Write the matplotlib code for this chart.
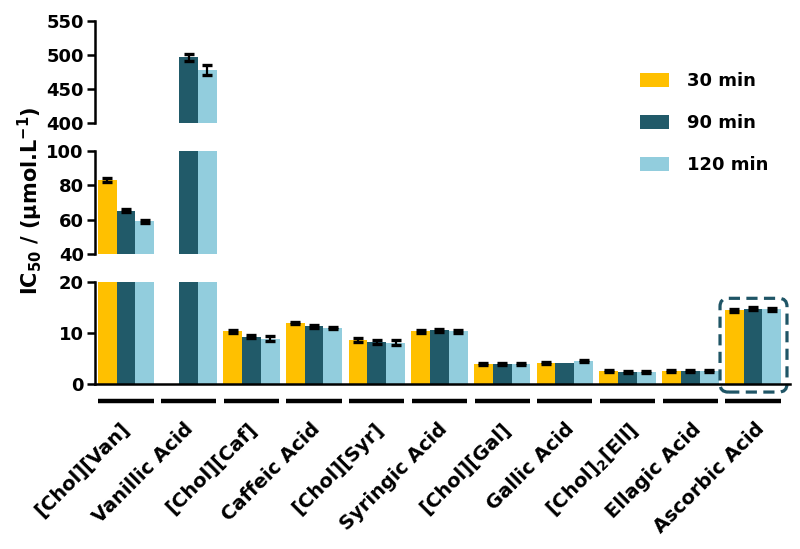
import matplotlib
matplotlib.use('Agg')
import matplotlib.pyplot as plt
import matplotlib.transforms as mtransforms
from matplotlib.patches import FancyBboxPatch
import numpy as np

plt.rcParams['font.family'] = ['DejaVu Sans']
plt.rcParams['font.weight'] = 'bold'
plt.rcParams['mathtext.default'] = 'bf'

categories = ['[Chol][Van]', 'Vanillic Acid', '[Chol][Caf]', 'Caffeic Acid',
              '[Chol][Syr]', 'Syringic Acid', '[Chol][Gal]', 'Gallic Acid',
              '[Chol]$_2$[Ell]', 'Ellagic Acid', 'Ascorbic Acid']
series = ['30 min', '90 min', '120 min']
ic50_30 = [83.0, np.nan, 10.3, 12.0, 8.7, 10.3, 3.9, 4.1, 2.5, 2.6, 14.5]
ic50_90 = [65.2, 496.5, 9.3, 11.3, 8.2, 10.5, 3.9, 4.1, 2.4, 2.6, 14.8]
ic50_120 = [59.0, 478.0, 8.9, 11.0, 8.1, 10.3, 3.9, 4.5, 2.4, 2.6, 14.7]
err_30 = [1.0, np.nan, 0.3, 0.25, 0.4, 0.3, 0.25, 0.25, 0.2, 0.2, 0.3]
err_90 = [1.0, 5.0, 0.35, 0.25, 0.45, 0.3, 0.25, np.nan, 0.2, 0.2, 0.3]
err_120 = [0.8, 7.0, 0.45, 0.25, 0.5, 0.3, 0.25, 0.25, 0.2, 0.2, 0.3]
colors = ['#FFC000', '#215A69', '#92CDDD']
seg_limits = [(400, 550), (40, 100), (0, 20)]
seg_ticks = [[400, 450, 500, 550], [40, 60, 80, 100], [0, 10, 20]]

W, H = 800, 549
fig = plt.figure(figsize=(W / 100, H / 100), dpi=100)

def rect(left, top, right, bottom):
    return [left / W, 1 - bottom / H, (right - left) / W, (bottom - top) / H]

rects = [rect(95, 21, 790, 123), rect(95, 151, 790, 254), rect(95, 282, 790, 384)]
x = np.arange(len(categories))
w = 0.30
xlim = (-0.494, 10.59)
vals_all = [ic50_30, ic50_90, ic50_120]
errs_all = [err_30, err_90, err_120]

axes = []
handles = []
for (lo, hi), ticks, r in zip(seg_limits, seg_ticks, rects):
    ax = fig.add_axes(r)
    hs = []
    for k, (vals, errs, c, lab) in enumerate(zip(vals_all, errs_all, colors, series)):
        xs = x + (k - 1) * w
        b = ax.bar(xs, vals, width=w, color=c, label=lab, edgecolor='none')
        hs.append(b)
        ax.errorbar(xs, vals, yerr=errs, fmt='none', ecolor='black',
                    elinewidth=1.6, capsize=3.6, capthick=2.4)
    handles = hs
    ax.set_ylim(lo, hi)
    ax.set_xlim(*xlim)
    ax.set_yticks(ticks)
    ax.set_yticklabels([str(t) for t in ticks], fontsize=13, fontweight='bold')
    ax.tick_params(axis='y', width=1.8, length=6, pad=2)
    for s in ['top', 'right']:
        ax.spines[s].set_visible(False)
    ax.spines['left'].set_linewidth(1.8)
    ax.spines['bottom'].set_linewidth(1.8)
    ax.patch.set_alpha(0)
    axes.append(ax)

for ax in axes[:2]:
    ax.spines['bottom'].set_visible(False)
    ax.set_xticks([])

axb = axes[2]
axb.set_xticks(x)
axb.set_xticklabels(categories, rotation=45, ha='right', va='top',
                    rotation_mode='anchor', fontsize=14, fontweight='bold')
axb.tick_params(axis='x', length=0, pad=25.5)
for i, lab in enumerate(axb.get_xticklabels()):
    off = mtransforms.ScaledTranslation((-6 + 0.8 * i) / 100, 0, fig.dpi_scale_trans)
    lab.set_transform(lab.get_transform() + off)

blend = mtransforms.blended_transform_factory(axb.transData, axb.transAxes)
for i in x:
    axb.plot([i - 0.44, i + 0.44], [-0.167, -0.167], transform=blend, color='black',
             lw=3.2, clip_on=False, solid_capstyle='butt')

# dashed highlight around Ascorbic Acid
xr = (xlim[1] - xlim[0]) / 695.0
yr = 20 / 102.0
box = FancyBboxPatch((10 - 0.526, -1.58), 1.068, 18.38,
                     boxstyle='round,pad=0,rounding_size=0.13',
                     mutation_aspect=yr / xr, transform=axb.transData,
                     clip_on=False, fill=False, ec='#1F5566', lw=2.3,
                     ls=(0, (3.5, 2)))
axb.add_patch(box)

fig.legend(handles, series, loc='upper left', bbox_to_anchor=(640 / W, 1 - 72 / H),
           frameon=False, prop={'size': 13, 'weight': 'bold'}, handlelength=1.6,
           handleheight=0.8, handletextpad=1.0, labelspacing=1.33, borderpad=0,
           borderaxespad=0)

fig.text(30 / W, 1 - 201 / H, 'IC$_{50}$ / (µmol.L$^{-1}$)', rotation=90,
         ha='center', va='center', fontsize=15, fontweight='bold')

fig.savefig('out.png', dpi=100)
